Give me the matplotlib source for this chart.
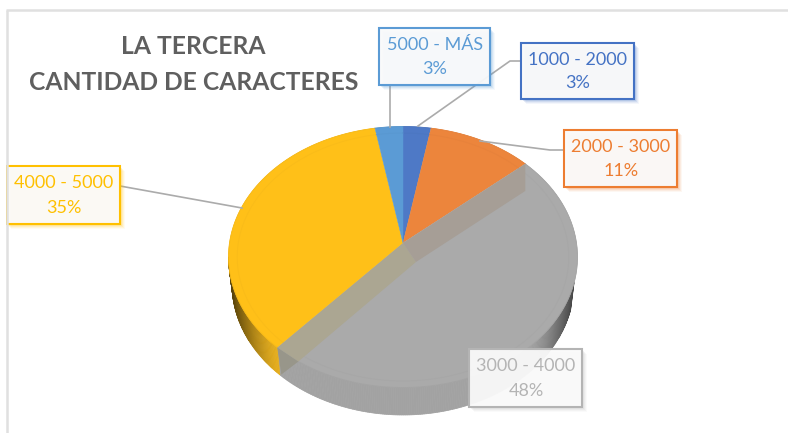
import numpy as np
import matplotlib
matplotlib.use('Agg')
import matplotlib.pyplot as plt
from matplotlib.patches import Rectangle

# order: clockwise starting at 12 o'clock
categories = ['1000 - 2000', '2000 - 3000', '3000 - 4000', '4000 - 5000', '5000 - MÁS']
percents = [3, 11, 48, 35, 3]
top_colors = ['#4E79C6', '#EC853C', '#AAAAAA', '#FFC018', '#5B9BD5']
side_colors = ['#3F62A3', '#C96C2E', '#A2A2A2', '#E6AE1C', '#4A80B0']
label_colors = ['#4472C4', '#ED7D31', '#B4B4B4', '#FFC000', '#5B9BD5']
title_lines = ['LA TERCERA', 'CANTIDAD DE CARACTERES']

# label box: x0, y0, x1, y1 in pixels
boxes = [(521, 43, 634, 99), (564, 130, 677, 187), (469, 349, 582, 407),
         (6, 166, 120, 224), (379, 28, 490, 85)]
leaders = [[(521, 61), (510, 61), (418, 126)],
           [(564, 150), (550, 150), (480, 141)],
           [],
           [(120, 186), (242, 208)],
           [(390, 85), (390, 127)]]

plt.rcParams['font.family'] = ['Lato', 'DejaVu Sans']

fig = plt.figure(figsize=(7.88, 4.33), dpi=100)
ax = fig.add_axes([0, 0, 1, 1])
ax.set_xlim(0, 788)
ax.set_ylim(433, 0)
ax.axis('off')

# ellipses of the tilted pie, apex sits above the ellipse centre (perspective)
cx, cy, rx, ry = 403, 257, 174.5, 130.5
apex_y = 243
low_cy, low_rx, low_ry = 284, 171, 131
squash = 1.28


def rim_point(deg):
    # ray from apex at clockwise angle deg, cut with the top ellipse
    t = np.radians(deg)
    dx = np.sin(t) * squash
    dy = -np.cos(t)
    off = apex_y - cy
    a = (dx / rx) ** 2 + (dy / ry) ** 2
    b = 2 * dy * off / ry ** 2
    c = (off / ry) ** 2 - 1
    s = (-b + np.sqrt(b * b - 4 * a * c)) / (2 * a)
    return cx + s * dx, apex_y + s * dy


def low_point(x, sign=1):
    u = np.clip((x - cx) / low_rx, -1, 1)
    return low_cy + sign * low_ry * np.sqrt(1 - u * u)


def shade(color, f):
    return tuple(np.array(matplotlib.colors.to_rgb(color)) * f)


edges = np.cumsum([0] + percents) * 3.6

# side wall, thin strips so the ends can go dark
for i, col in enumerate(side_colors):
    ang = np.linspace(edges[i], edges[i + 1], max(int(percents[i] * 6), 2))
    for a0, a1 in zip(ang[:-1], ang[1:]):
        x0, y0 = rim_point(a0)
        x1, y1 = rim_point(a1)
        if y0 < cy and y1 < cy:
            continue
        xf = abs((x0 + x1) / 2 - cx) / rx
        f = 1 - 0.62 * max(0, (xf - 0.72) / 0.28) ** 1.4
        if (x0 + x1) / 2 > cx and xf > 0.98:
            continue
        lx0 = cx + (x0 - cx) * low_rx / rx
        lx1 = cx + (x1 - cx) * low_rx / rx
        ax.fill([x0, x1, lx1, lx0], [y0, y1, low_point(lx1), low_point(lx0)],
                color=shade(col, f), lw=0.5, zorder=2)

# top faces
for i, col in enumerate(top_colors):
    ang = np.linspace(edges[i], edges[i + 1], 80)
    pts = [rim_point(a) for a in ang]
    xs = [cx] + [p[0] for p in pts]
    ys = [apex_y] + [p[1] for p in pts]
    ax.fill(xs, ys, color=col, lw=0.3, zorder=3)
    # faint inner bevel ring
    bx = [cx + (p[0] - cx) * 0.95 for p in pts]
    by = [cy + (p[1] - cy) * 0.95 for p in pts]
    ax.plot(bx, by, color=shade(col, 0.98), lw=0.7, zorder=4)
    ax.plot([p[0] for p in pts], [p[1] for p in pts], color=shade(col, 0.96), lw=0.6, zorder=4)

# cut faces along both straight edges of the large slice
ax_a = rim_point(edges[2])
ax_b = rim_point(edges[3])
inner = (cx + 13, apex_y + 19)
ax.fill([ax_b[0], cx, inner[0], ax_b[0] + 21], [ax_b[1], apex_y, inner[1], ax_b[1] + 14],
        color='#ABA692', lw=0, zorder=5)
ax.fill([ax_a[0], cx, inner[0], ax_a[0]], [ax_a[1], apex_y, inner[1], ax_a[1] + 27],
        color='#A69E96', lw=0, zorder=5)
ax.fill([ax_b[0], ax_b[0] + 21, ax_b[0] + 4], [ax_b[1], ax_b[1] + 14, ax_b[1] + 27],
        color='#98968A', lw=0, zorder=5)

# leader lines
for pts in leaders:
    if pts:
        ax.plot([p[0] for p in pts], [p[1] for p in pts], color='#ABABAB', lw=1.2, zorder=6)

# labels
for name, pct, box, col in zip(categories, percents, boxes, label_colors):
    x0, y0, x1, y1 = box
    w, h = x1 - x0, y1 - y0
    for k, al in zip((5, 4, 3, 2), (0.06, 0.09, 0.12, 0.16)):
        ax.add_patch(Rectangle((x0 + k, y0 + k), w, h, color=col, alpha=al, lw=0, zorder=7))
    ax.add_patch(Rectangle((x0, y0), w, h, facecolor='#FBFBFB', alpha=0.93, lw=0, zorder=8))
    ax.add_patch(Rectangle((x0, y0), w, h, fill=False, edgecolor=col, lw=1.5, zorder=9))
    ax.text((x0 + x1) / 2 + 0.5, y0 + h * 0.30, name, color=col, fontsize=13, ha='center', va='center', zorder=10)
    ax.text((x0 + x1) / 2 + 0.5, y0 + h * 0.72, f'{pct}%', color=col, fontsize=13, ha='center', va='center', zorder=10)

# title
for line, y in zip(title_lines, (46, 83)):
    ax.text(193.5, y, line, color='#5F5F5F', fontsize=17.7, fontweight='bold', ha='center', va='center', zorder=10)

# chart frame
ax.plot([7, 7], [433, 10], color='#E0E0E0', lw=1.8, zorder=11, solid_capstyle='butt')
ax.plot([6, 788], [10, 10], color='#E0E0E0', lw=1.8, zorder=11, solid_capstyle='butt')
ax.add_patch(Rectangle((0, 0), 6, 433, color='white', lw=0, zorder=11))

fig.savefig('out.png', dpi=100)
